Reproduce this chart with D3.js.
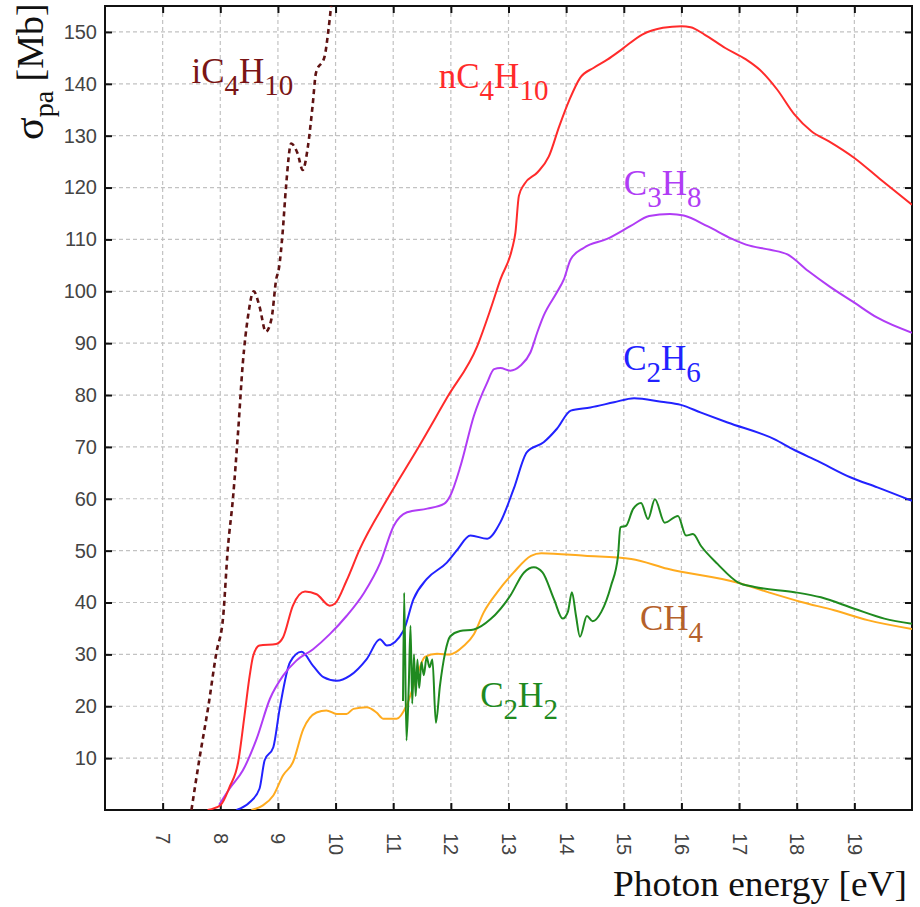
<!DOCTYPE html>
<html><head><meta charset="utf-8">
<script src="https://cdn.jsdelivr.net/npm/d3@7"></script>
<style>
html,body{margin:0;padding:0;background:#fff;}
svg{display:block;}
</style></head>
<body>
<svg id="chart" width="920" height="907"></svg>
<script>
// ---------------- data ----------------
const xTickValues = [7,8,9,10,11,12,13,14,15,16,17,18,19];
const yTickValues = [10,20,30,40,50,60,70,80,90,100,110,120,130,140,150];

const energy_iC4H10 = [7.50,7.64,7.79,7.93,8.05,8.13,8.22,8.31,8.39,8.48,8.58,8.68,8.79,8.89,8.97,9.02,9.08,9.14,9.23,9.34,9.43,9.52,9.60,9.66,9.81,9.87,9.93,9.96];
const sigma_iC4H10  = [0,10,19.8,30.2,37.3,50.3,60.1,73.1,86.0,95.1,100,97.1,92.2,94.8,102.3,104.6,111.1,120.1,128.5,126.6,123.4,127.9,135.6,142.1,145.3,149.8,156,160];

const energy_nC4H10 = [7.78,8.0,8.16,8.31,8.42,8.51,8.57,8.68,8.97,9.09,9.26,9.47,9.67,9.90,9.99,10.19,10.42,10.90,11.42,11.94,12.46,12.69,12.86,13.06,13.12,13.18,13.27,13.50,13.70,13.88,14.06,14.24,14.48,14.72,14.96,15.32,15.68,16.0,16.16,16.40,16.76,17.12,17.36,17.66,17.96,18.26,18.56,19.0,19.46,20.0];
const sigma_nC4H10  = [0,0.9,4.4,9.2,18.2,25.9,29.7,31.7,32.0,33.3,39.4,42.1,41.6,39.4,39.8,44.2,50.3,60.0,69.6,79.6,89.5,96.6,102.3,108.1,111.3,118.4,120.6,122.9,126.0,131.8,137.0,141.1,143.1,144.7,146.6,149.5,150.8,151.1,150.9,149.5,146.9,144.7,142.7,138.9,134.1,130.8,128.9,125.7,121.5,116.7];

const energy_C3H8 = [7.98,8.16,8.39,8.63,8.86,9.09,9.32,9.61,9.90,10.19,10.49,10.78,11.01,11.24,11.59,11.88,11.99,12.17,12.40,12.63,12.75,12.86,13.03,13.21,13.38,13.50,13.61,13.84,13.96,14.08,14.31,14.71,15.12,15.44,15.80,16.04,16.46,16.88,17.12,17.54,17.84,18.20,18.56,19.0,19.40,20.0];
const sigma_C3H8  = [1.0,4.1,7.6,13.7,21.4,25.9,28.8,31.0,33.9,37.4,41.8,47.8,54.8,57.4,58.1,59.0,60.6,66.4,76.0,82.4,85.0,85.2,84.7,85.7,88.2,92.1,95.3,99.8,102.3,106.2,108.4,110.1,112.6,114.5,114.9,114.6,112.5,110.1,109.0,108.0,107.1,103.9,101.0,97.8,94.9,92.0];

const energy_C2H6 = [8.28,8.51,8.68,8.77,8.92,9.03,9.21,9.41,9.61,9.79,10.02,10.25,10.54,10.77,10.89,11.18,11.35,11.58,11.93,12.10,12.34,12.63,12.86,13.09,13.32,13.61,13.84,14.08,14.42,14.83,15.18,15.65,15.99,16.34,16.80,17.61,17.96,18.36,18.94,19.40,20.0];
const sigma_C2H6  = [0,1.5,4.1,9.6,12.1,19.5,28.5,30.5,27.8,25.6,24.9,25.9,29.1,32.9,31.7,34.6,40.6,44.5,47.7,50.0,52.9,52.3,55.5,61.9,69.0,70.9,73.5,77.0,77.6,78.6,79.4,78.7,78.1,76.6,74.7,71.5,69.4,67.3,64.1,62.2,59.6];

const energy_CH4 = [8.54,8.74,8.92,9.09,9.26,9.44,9.67,9.84,10.02,10.19,10.31,10.54,10.71,10.83,11.06,11.23,11.40,11.55,11.76,11.99,12.22,12.40,12.57,12.80,13.09,13.39,13.57,14.32,15.13,15.76,16.98,17.50,18.08,18.65,19.23,20.0];
const sigma_CH4  = [0,0.9,2.8,6.7,9.2,15.6,18.8,19.2,18.5,18.5,19.5,19.8,18.8,17.6,17.6,20.1,25.5,29.5,30.1,30.0,31.6,33.9,38.1,41.9,45.8,49.0,49.5,49.0,48.4,46.5,43.8,42.0,40.1,38.5,36.6,34.9];

const energy_C2H2 = [11.17,11.19,11.23,11.27,11.30,11.33,11.36,11.39,11.42,11.45,11.49,11.53,11.58,11.63,11.68,11.74,11.81,11.90,11.99,12.16,12.40,12.69,13.03,13.27,13.44,13.59,13.79,13.94,14.03,14.10,14.17,14.24,14.36,14.46,14.61,14.78,14.90,14.94,15.04,15.16,15.30,15.42,15.54,15.71,15.94,16.08,16.20,16.34,16.63,16.98,17.27,17.96,18.42,19.00,19.52,20.0];
const sigma_C2H2  = [21,41.9,13.4,24,35.5,20.5,30,22,29,23.5,28.5,26,29.5,27.5,29,16.8,23.9,30.3,33.5,34.5,34.8,36.8,41.3,45.8,46.8,45.8,40.6,36.9,38.2,42.0,37.5,33.4,37.4,36.4,38.2,43.3,49.0,54.5,54.8,58.0,59.2,56.1,59.9,55.4,56.7,52.9,53.2,50.9,47.4,43.9,43.0,42.0,41.0,38.8,36.9,35.9];

// ---------------- layout ----------------
const L = 105, R = 912, T = 6, B = 810;
const svg = d3.select("#chart");
const x = d3.scaleLinear().domain([6, 20]).range([L, R]);
const y = d3.scaleLinear().domain([0, 155]).range([B, T]);

svg.append("defs").append("clipPath").attr("id","plotclip")
  .append("rect").attr("x",L).attr("y",T).attr("width",R-L).attr("height",B-T);

// grid
const grid = svg.append("g").attr("stroke","#c2c2c2").attr("stroke-width",1.2).attr("stroke-dasharray","4,3");
grid.selectAll("line.gx").data(xTickValues).join("line").attr("class","gx")
  .attr("x1",d=>x(d)).attr("x2",d=>x(d)).attr("y1",T).attr("y2",B);
grid.selectAll("line.gy").data(yTickValues).join("line").attr("class","gy")
  .attr("x1",L).attr("x2",R).attr("y1",d=>y(d)).attr("y2",d=>y(d));

// axes
const tickFont = "'Liberation Sans', Arial, sans-serif";
const axBottom = svg.append("g").attr("transform",`translate(0,${B})`)
  .call(d3.axisBottom(x).tickValues(xTickValues).tickSize(-7).tickFormat(d3.format("d")));
axBottom.selectAll("text")
  .attr("transform","translate(0,23) rotate(90)")
  .attr("x",0).attr("y",0).attr("dy","0.35em")
  .style("text-anchor","start");
const axTop = svg.append("g").attr("transform",`translate(0,${T})`)
  .call(d3.axisTop(x).tickValues(xTickValues).tickSize(-7).tickFormat(""));
const axLeft = svg.append("g").attr("transform",`translate(${L},0)`)
  .call(d3.axisLeft(y).tickValues(yTickValues).tickSize(-7).tickPadding(8).tickFormat(d3.format("d")));
const axRight = svg.append("g").attr("transform",`translate(${R},0)`)
  .call(d3.axisRight(y).tickValues(yTickValues).tickSize(-7).tickFormat(""));
[axBottom, axTop, axLeft, axRight].forEach(g => {
  g.select(".domain").remove();
  g.selectAll(".tick line").attr("stroke","#111").attr("stroke-width",2);
  g.selectAll("text").attr("fill","#444").style("font-family",tickFont).style("font-size","20px");
});

// frame
svg.append("rect").attr("x",L).attr("y",T).attr("width",R-L).attr("height",B-T)
  .attr("fill","none").attr("stroke","#111").attr("stroke-width",2);

// lines
const series = [
  {e: energy_CH4,    s: sigma_CH4,    color:"#ffab1f", dash:null},
  {e: energy_C2H6,   s: sigma_C2H6,   color:"#2222ff", dash:null},
  {e: energy_C3H8,   s: sigma_C3H8,   color:"#b03cf5", dash:null},
  {e: energy_nC4H10, s: sigma_nC4H10, color:"#ff2b2b", dash:null},
  {e: energy_C2H2,   s: sigma_C2H2,   color:"#1f8a1f", dash:null},
  {e: energy_iC4H10, s: sigma_iC4H10, color:"#5e1212", dash:"5,4"}
];
const line = d3.line().x(d=>x(d[0])).y(d=>y(d[1])).curve(d3.curveMonotoneX);
const lines = svg.append("g").attr("clip-path","url(#plotclip)");
series.forEach(sr => {
  const pts = sr.e.map((v,i)=>[v, sr.s[i]]);
  lines.append("path").datum(pts).attr("d",line)
    .attr("fill","none").attr("stroke",sr.color)
    .attr("stroke-width", sr.dash ? 2.6 : 2)
    .attr("stroke-dasharray", sr.dash)
    .attr("stroke-linejoin","round");
});

// series labels
const serif = "'Liberation Serif', 'Times New Roman', serif";
function label(xv, yv, parts, color){
  const t = svg.append("text").attr("x",x(xv)).attr("y",y(yv))
    .attr("fill",color).style("font-family",serif).style("font-size","35px");
  parts.forEach(p => {
    const ts = t.append("tspan").text(p.t);
    if (p.sub) { ts.attr("dy",12).style("font-size","29px"); }
    else if (p.after) { ts.attr("dy",-12); }
  });
}
label(7.50, 140.1, [{t:"iC"},{t:"4",sub:true},{t:"H",after:true},{t:"10",sub:true}], "#7a1515");
label(11.79, 139.2, [{t:"nC"},{t:"4",sub:true},{t:"H",after:true},{t:"10",sub:true}], "#ff2b2b");
label(15.0, 118.5, [{t:"C"},{t:"3",sub:true},{t:"H",after:true},{t:"8",sub:true}], "#b03cf5");
label(14.99, 84.8, [{t:"C"},{t:"2",sub:true},{t:"H",after:true},{t:"6",sub:true}], "#2222ff");
label(15.28, 34.7, [{t:"CH"},{t:"4",sub:true}], "#b5612b");
label(12.51, 19.9, [{t:"C"},{t:"2",sub:true},{t:"H",after:true},{t:"2",sub:true}], "#1f8a1f");

// axis titles
svg.append("text").attr("x",907).attr("y",896)
  .attr("text-anchor","end").attr("fill","#111")
  .attr("textLength",294).attr("lengthAdjust","spacingAndGlyphs")
  .style("font-family",serif).style("font-size","36px")
  .text("Photon energy [eV]");

const yt = svg.append("text").attr("transform","translate(43,140) rotate(-90)")
  .attr("fill","#111").style("font-family",serif).style("font-size","38px");
yt.append("tspan").text("σ").style("font-size","42px");
yt.append("tspan").text("pa").attr("dy",10).style("font-size","28px");
yt.append("tspan").text(" [Mb]").attr("dy",-10);
</script>
</body></html>
